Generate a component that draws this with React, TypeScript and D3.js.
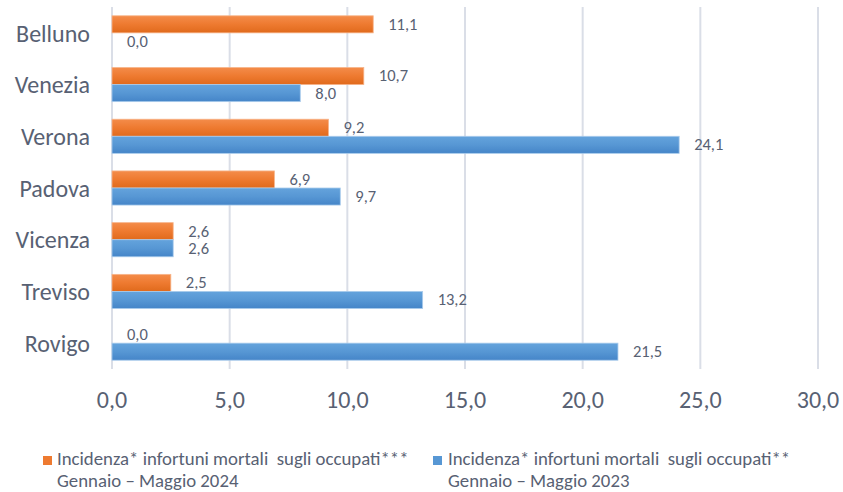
import React from 'react';
import * as d3 from 'd3';

const categories = ['Belluno', 'Venezia', 'Verona', 'Padova', 'Vicenza', 'Treviso', 'Rovigo'];
const values2024 = [11.1, 10.7, 9.2, 6.9, 2.6, 2.5, 0.0];
const values2023 = [0.0, 8.0, 24.1, 9.7, 2.6, 13.2, 21.5];
const xTicks = [0, 5, 10, 15, 20, 25, 30];
const seriesNames = ['y2024', 'y2023'];
const legendLines2024 = ['Incidenza* infortuni mortali  sugli occupati***', 'Gennaio \u2013 Maggio 2024'];
const legendLines2023 = ['Incidenza* infortuni mortali  sugli occupati**', 'Gennaio \u2013 Maggio 2023'];

const W = 843;
const H = 492;
const FONT = "Carlito, Calibri, Lato, 'Noto Sans', sans-serif";
const TEXT = '#586173';

const fmt = (v: number) => v.toFixed(1).replace('.', ',');

export default function App() {
  const x = d3.scaleLinear().domain([0, 30]).range([112, 818]);
  const y = d3.scaleBand<string>().domain(categories).range([7, 369]).paddingInner(0.34).paddingOuter(0.17);
  const sub = d3.scaleBand<string>().domain(seriesNames).range([0, y.bandwidth()]);

  const rows = categories.map((c, i) => ({ c, a: values2024[i], b: values2023[i] }));

  return (
    <svg width={W} height={H} style={{ position: 'absolute', left: 0, top: 0, background: '#fff' }}>
      <defs>
        <linearGradient id="gOrange" x1="0" y1="0" x2="0" y2="1">
          <stop offset="0" stopColor="#f48c4a" />
          <stop offset="0.5" stopColor="#ee7a30" />
          <stop offset="1" stopColor="#e06a1c" />
        </linearGradient>
        <linearGradient id="gBlue" x1="0" y1="0" x2="0" y2="1">
          <stop offset="0" stopColor="#64a3dc" />
          <stop offset="0.5" stopColor="#5797d4" />
          <stop offset="1" stopColor="#4585c8" />
        </linearGradient>
      </defs>

      {/* grid */}
      {xTicks.map(t => (
        <line key={t} x1={x(t)} x2={x(t)} y1={7} y2={369} stroke="#dadee7" strokeWidth={2} />
      ))}

      {/* bars */}
      {rows.map(r => {
        const y0 = y(r.c)!;
        return (
          <g key={r.c}>
            <rect x={x(0)} y={y0 + sub('y2024')!} width={x(r.a) - x(0)} height={sub.bandwidth()}
              fill="url(#gOrange)" stroke="#f7b48a" strokeWidth={0.8} />
            <rect x={x(0)} y={y0 + sub('y2023')!} width={x(r.b) - x(0)} height={sub.bandwidth()}
              fill="url(#gBlue)" stroke="#a9cbec" strokeWidth={0.8} />
          </g>
        );
      })}

      {/* data labels */}
      {rows.map(r => {
        const y0 = y(r.c)!;
        return (
          <g key={r.c + 'l'} fontFamily={FONT} fontSize={16.5} fill={TEXT}>
            <text x={x(r.a) + 15} y={y0 + sub('y2024')! + sub.bandwidth() / 2 + 1.5} dominantBaseline="middle">{fmt(r.a)}</text>
            <text x={x(r.b) + 15} y={y0 + sub('y2023')! + sub.bandwidth() / 2 + 1.5} dominantBaseline="middle">{fmt(r.b)}</text>
          </g>
        );
      })}

      {/* category labels */}
      {categories.map(c => (
        <text key={c} x={90} y={y(c)! + y.bandwidth() / 2 + 3} textAnchor="end" dominantBaseline="middle"
          fontFamily={FONT} fontSize={24} fill={TEXT}>{c}</text>
      ))}

      {/* x tick labels */}
      {xTicks.map(t => (
        <text key={'t' + t} x={x(t)} y={402} textAnchor="middle" dominantBaseline="middle"
          fontFamily={FONT} fontSize={24} fill={TEXT}>{fmt(t)}</text>
      ))}

      {/* legend */}
      <g fontFamily={FONT} fontSize={18.8} fill={TEXT}>
        <rect x={43} y={456} width={9} height={9} fill="#ee7a30" />
        {legendLines2024.map((s, i) => (
          <text key={s} x={57} y={461 + i * 22} dominantBaseline="middle" style={{ whiteSpace: 'pre' }}>{s}</text>
        ))}
        <rect x={433} y={456} width={9} height={9} fill="#5797d4" />
        {legendLines2023.map((s, i) => (
          <text key={s} x={448} y={461 + i * 22} dominantBaseline="middle" style={{ whiteSpace: 'pre' }}>{s}</text>
        ))}
      </g>
    </svg>
  );
}
